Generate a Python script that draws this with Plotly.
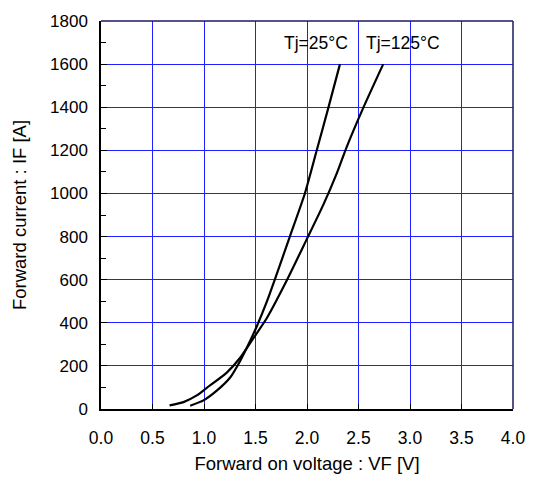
import plotly.graph_objects as go

# Tj = 25°C curve (V, A)
vf_25 = [0.866, 0.995, 1.124, 1.254, 1.351, 1.431, 1.512, 1.609, 1.69, 1.835, 1.98, 2.094, 2.207, 2.32]
if_25 = [15, 40, 85, 146, 223, 299, 383, 497, 604, 802, 1001, 1199, 1397, 1600]

# Tj = 125°C curve (V, A)
vf_125 = [0.666, 0.801, 0.93, 1.027, 1.221, 1.351, 1.48, 1.609, 1.803, 1.997, 2.158, 2.288, 2.384, 2.546, 2.74]
if_125 = [17, 32, 63, 98, 169, 238, 329, 421, 596, 787, 947, 1092, 1214, 1397, 1600]

x_ticks = [0.0, 0.5, 1.0, 1.5, 2.0, 2.5, 3.0, 3.5, 4.0]
y_ticks = [0, 200, 400, 600, 800, 1000, 1200, 1400, 1600, 1800]

labels = ["Tj=25°C", "Tj=125°C"]
label_x = [2.086, 2.93]
label_y = [1700, 1700]

FONT = "Liberation Sans, Arial, sans-serif"

fig = go.Figure()
fig.add_trace(go.Scatter(x=vf_25, y=if_25, mode="lines", line=dict(color="black", width=2.2, shape="spline", smoothing=0.6), showlegend=False))
fig.add_trace(go.Scatter(x=vf_125, y=if_125, mode="lines", line=dict(color="black", width=2.2, shape="spline", smoothing=0.6), showlegend=False))

for t, x, y in zip(labels, label_x, label_y):
    fig.add_annotation(x=x, y=y, text=t, showarrow=False, font=dict(family=FONT, size=17.5, color="black"))

# top & right border
fig.add_shape(type="line", xref="paper", yref="paper", x0=0, x1=1, y0=1, y1=1, line=dict(color="#1a1a60", width=1.5))
fig.add_shape(type="line", xref="paper", yref="paper", x0=1, x1=1, y0=0, y1=1, line=dict(color="#1a1a60", width=1.5))

fig.update_layout(
    width=553, height=483,
    margin=dict(l=101, r=40, t=15, b=74),
    paper_bgcolor="white", plot_bgcolor="white",
    font=dict(family=FONT, size=17, color="black"),
    xaxis=dict(
        range=[0, 4], tickvals=x_ticks, ticktext=[f"{v:.1f}" for v in x_ticks],
        showgrid=True, gridcolor="#1f1fff", gridwidth=1,
        showline=True, linecolor="black", linewidth=1.5,
        ticks="inside", ticklen=5, tickcolor="black",
        ticklabelstandoff=12, tickfont=dict(size=17.5),
        zeroline=False,
        title=dict(text="Forward on voltage : VF [V]", font=dict(size=18.5), standoff=10),
    ),
    yaxis=dict(
        range=[0, 1800], tickvals=y_ticks,
        showgrid=True, gridcolor="#1f1fff", gridwidth=1,
        showline=True, linecolor="black", linewidth=1.5,
        ticks="inside", ticklen=6, tickcolor="black",
        minor=dict(dtick=100, ticks="inside", ticklen=5, tickcolor="black", showgrid=False),
        ticklabelstandoff=8, tickfont=dict(size=17),
        zeroline=False,
        title=dict(text="Forward current : IF [A]", font=dict(size=18.5), standoff=19),
    ),
)

fig.write_html("out.html")
